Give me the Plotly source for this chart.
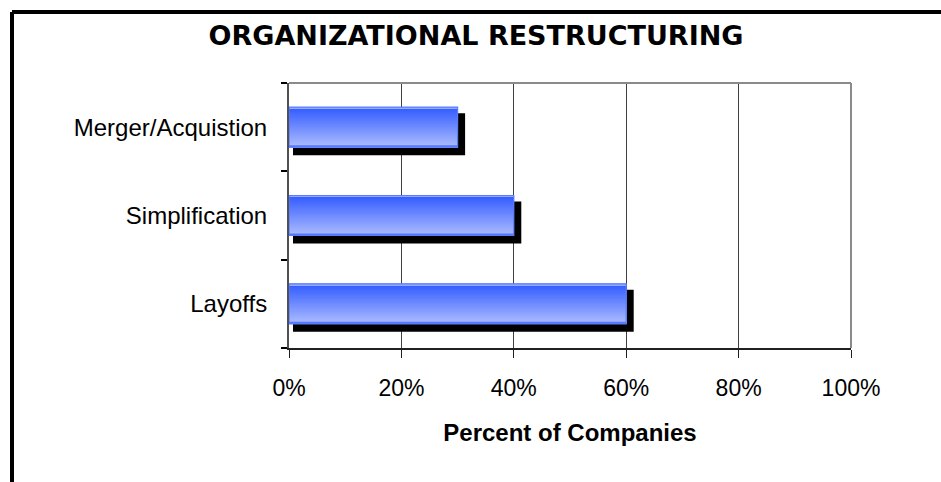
import plotly.graph_objects as go

# ---- data ----
categories = ["Layoffs", "Simplification", "Merger/Acquistion"]
values = [60, 40, 30]
x_ticks = [0, 20, 40, 60, 80, 100]
x_tick_labels = ["0%", "20%", "40%", "60%", "80%", "100%"]
title_text = "ORGANIZATIONAL RESTRUCTURING"
x_title = "Percent of Companies"

W, H = 941, 482
ML, MR, MT, MB = 289, 90, 83, 134
PW, PH = W - ML - MR, H - MT - MB
px_x = 100.0 / PW          # data units per pixel (x)
px_y = 3.0 / PH            # category units per pixel (y)

fig = go.Figure()

# shadow bars
sh_base = 4 * px_x
sh_end = 7.5 * px_x
fig.add_trace(go.Bar(
    y=categories, x=[v + sh_end - sh_base for v in values], base=sh_base,
    orientation="h", width=42 * px_y, offset=-28 * px_y,
    marker=dict(color="black", line=dict(width=0)),
    hoverinfo="skip", showlegend=False))

# gradient bar layers
bar_top = 20 * px_y
bar_bot = -20 * px_y
bar_h = bar_top - bar_bot
top_c = (0x33, 0x5c, 0xff)
bot_c = (0xab, 0xbb, 0xff)
N = 24
for k in range(N):
    t = k / (N - 1)
    c = tuple(int(round(top_c[i] + (bot_c[i] - top_c[i]) * t)) for i in range(3))
    h = bar_h * (1 - k / N)
    fig.add_trace(go.Bar(
        y=categories, x=values, orientation="h",
        width=h, offset=bar_bot,
        marker=dict(color="rgb(%d,%d,%d)" % c, line=dict(width=0)),
        hoverinfo="skip", showlegend=False))
# bottom edge
fig.add_trace(go.Bar(
    y=categories, x=values, orientation="h",
    width=2 * px_y, offset=bar_bot,
    marker=dict(color="#5577ff", line=dict(width=0)),
    hoverinfo="skip", showlegend=False))
# top light edge
fig.add_trace(go.Bar(
    y=categories, x=values, orientation="h",
    width=1.5 * px_y, offset=bar_top - 1.5 * px_y,
    marker=dict(color="#93aaff", line=dict(width=0)),
    hoverinfo="skip", showlegend=False))
# outline right edge
fig.add_trace(go.Bar(
    y=categories, x=values, orientation="h",
    width=bar_h, offset=bar_bot,
    marker=dict(color="rgba(0,0,0,0)", line=dict(width=1.2, color="#5a7cff")),
    hoverinfo="skip", showlegend=False))

fig.update_layout(
    width=W, height=H,
    margin=dict(l=ML, r=MR, t=MT, b=MB),
    paper_bgcolor="white", plot_bgcolor="white",
    barmode="overlay",
    showlegend=False,
    title=dict(text="<b>" + title_text + "</b>", x=476 / W, xanchor="center",
               y=1 - 36 / H, yanchor="middle",
               font=dict(family="DejaVu Sans", size=27, color="black")),
    font=dict(family="Liberation Sans, Arial, sans-serif", color="black"),
)

fig.update_xaxes(
    range=[0, 100], tickvals=x_ticks, ticktext=x_tick_labels,
    showgrid=True, gridcolor="#404040", gridwidth=1,
    showline=True, linecolor="#202020", linewidth=1.5,
    ticks="outside", ticklen=8, tickcolor="#202020", tickwidth=1,
    tickfont=dict(size=23, color="black"), ticklabelstandoff=11,
    zeroline=False, fixedrange=True,
    title=dict(text="<b>" + x_title + "</b>", font=dict(size=24, color="black"), standoff=24),
)
fig.update_yaxes(
    type="category", categoryorder="array", categoryarray=categories,
    range=[-0.5, 2.5], tickson="boundaries",
    showgrid=False, showline=True, linecolor="#505050", linewidth=2,
    ticks="outside", ticklen=6, tickcolor="black", tickwidth=1.5,
    tickfont=dict(size=24, color="black"), ticklabelstandoff=15,
    zeroline=False, fixedrange=True,
)

# plot-area top/right gray border
fig.add_shape(type="line", xref="paper", yref="paper", x0=0, x1=1, y0=1, y1=1,
              line=dict(color="#8a8a8a", width=2), layer="above")
fig.add_shape(type="line", xref="paper", yref="paper", x0=1, x1=1, y0=0, y1=1,
              line=dict(color="#8a8a8a", width=2), layer="above")

# outer black frame (top and left, running off the page)
fx = (12 - ML) / PW
fy = 1 + (MT - 12) / PH
fig.add_shape(type="line", xref="paper", yref="paper", x0=fx, x1=2, y0=fy, y1=fy,
              line=dict(color="black", width=4), layer="above")
fig.add_shape(type="line", xref="paper", yref="paper", x0=fx, x1=fx, y0=fy, y1=-1,
              line=dict(color="black", width=4), layer="above")

fig.write_html("out.html")
